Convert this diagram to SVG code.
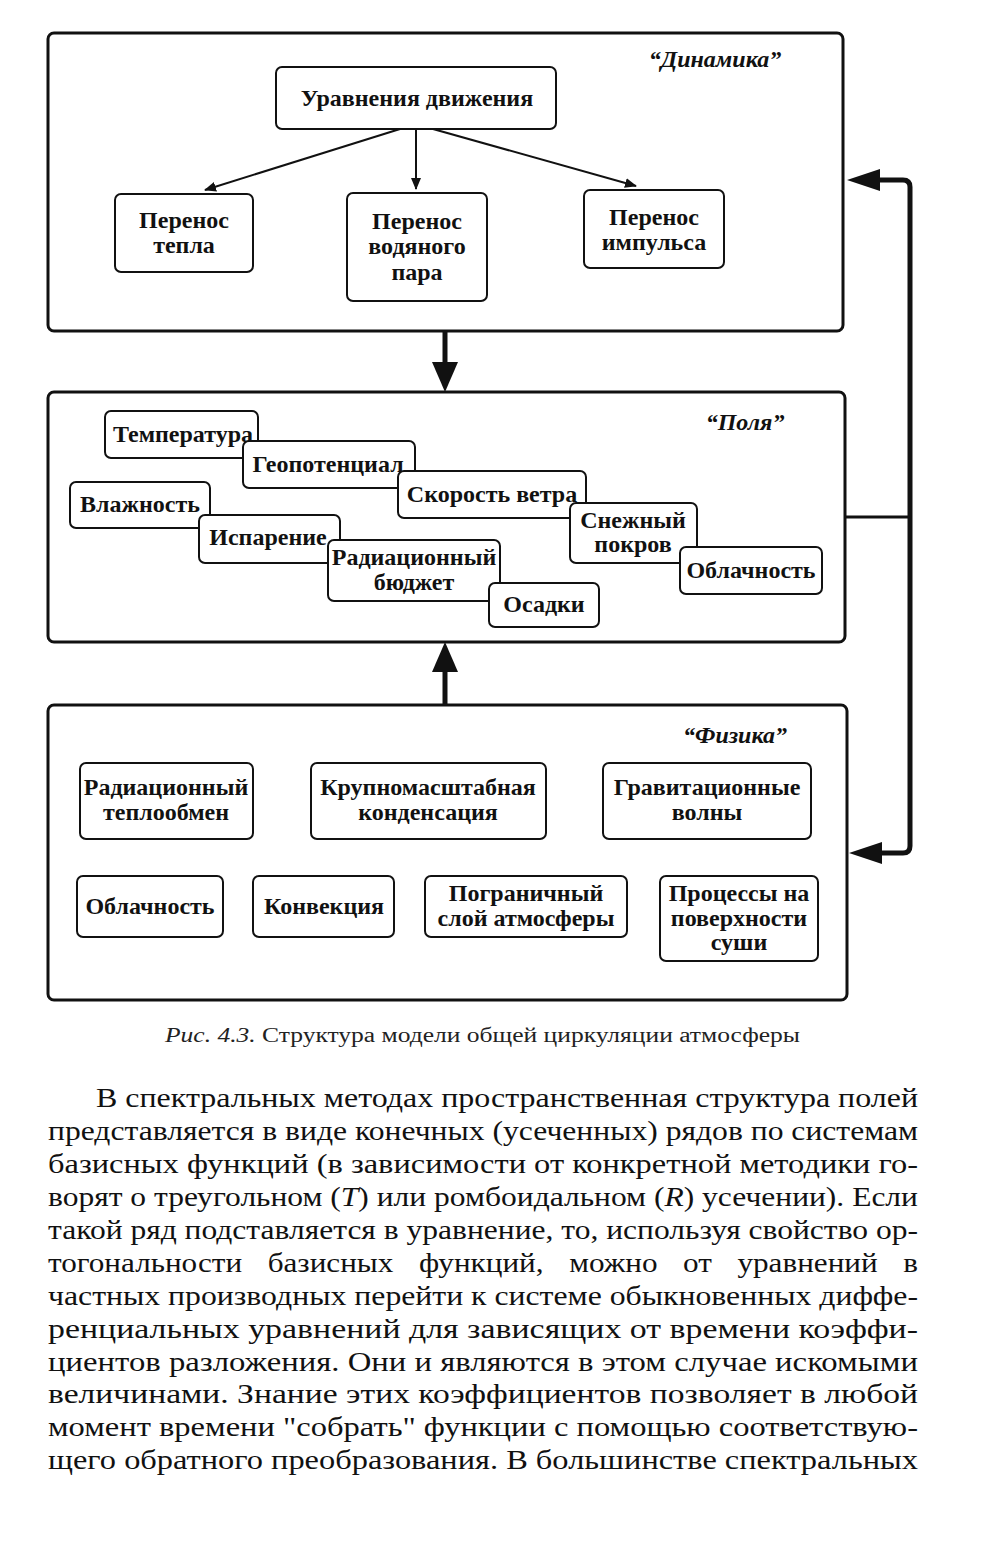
<svg xmlns="http://www.w3.org/2000/svg" width="992" height="1552" viewBox="0 0 992 1552">
<defs>
<style>
.frame{fill:#fff;stroke:#111;stroke-width:3}
.node{fill:#fff;stroke:#111;stroke-width:2}
.t{font-family:"Liberation Serif","DejaVu Serif",serif;font-size:24px;font-weight:bold;fill:#111;text-anchor:middle}
.title{font-family:"Liberation Serif","DejaVu Serif",serif;font-size:24px;font-weight:bold;font-style:italic;fill:#111;text-anchor:middle}
.cap{font-family:"Liberation Serif","DejaVu Serif",serif;font-size:20px;fill:#222}
.p{font-family:"Liberation Serif","DejaVu Serif",serif;font-size:28px;fill:#111}
.thin{stroke:#111;stroke-width:2;fill:none}
.thick{stroke:#111;stroke-width:5;fill:none}
</style>
<marker id="ah" markerWidth="12" markerHeight="10" refX="11" refY="5" orient="auto" markerUnits="userSpaceOnUse">
<path d="M0,0 L12,5 L0,10 Z" fill="#111"/>
</marker>
</defs>
<rect width="992" height="1552" fill="#fff"/>

<g id="dynamics">
<rect class="frame" x="48" y="33" width="795" height="298" rx="6"/>
<text class="title" x="715" y="67">“Динамика”</text>
</g>
<g id="eq-motion">
<rect class="node" x="276" y="67" width="280" height="62" rx="6"/>
<text class="t" x="417" y="106">Уравнения движения</text>
</g>
<g id="heat">
<rect class="node" x="115" y="194" width="138" height="78" rx="6"/>
<text class="t" x="184" y="228">Перенос</text>
<text class="t" x="184" y="253">тепла</text>
</g>
<g id="vapour">
<rect class="node" x="347" y="193" width="140" height="108" rx="6"/>
<text class="t" x="417" y="229">Перенос</text>
<text class="t" x="417" y="254">водяного</text>
<text class="t" x="417" y="280">пара</text>
</g>
<g id="momentum">
<rect class="node" x="584" y="190" width="140" height="78" rx="6"/>
<text class="t" x="654" y="225">Перенос</text>
<text class="t" x="654" y="250">импульса</text>
</g>

<g id="fields">
<rect class="frame" x="48" y="392" width="797" height="250" rx="6"/>
<text class="title" x="745" y="430">“Поля”</text>
</g>
<g id="temperature">
<rect class="node" x="105" y="411" width="153" height="47" rx="6"/>
<text class="t" x="183" y="442">Температура</text>
</g>
<g id="geopotential">
<rect class="node" x="243" y="441" width="172" height="47" rx="6"/>
<text class="t" x="328" y="472">Геопотенциал</text>
</g>
<g id="wind">
<rect class="node" x="398" y="471" width="188" height="47" rx="6"/>
<text class="t" x="492" y="502">Скорость ветра</text>
</g>
<g id="humidity">
<rect class="node" x="70" y="482" width="140" height="46" rx="6"/>
<text class="t" x="140" y="512">Влажность</text>
</g>
<g id="evaporation">
<rect class="node" x="199" y="515" width="141" height="48" rx="6"/>
<text class="t" x="268" y="545">Испарение</text>
</g>
<g id="radbudget">
<rect class="node" x="328" y="540" width="172" height="61" rx="6"/>
<text class="t" x="414" y="565">Радиационный</text>
<text class="t" x="414" y="590">бюджет</text>
</g>
<g id="precip">
<rect class="node" x="489" y="583" width="110" height="44" rx="6"/>
<text class="t" x="544" y="612">Осадки</text>
</g>
<g id="snow">
<rect class="node" x="570" y="503" width="127" height="60" rx="6"/>
<text class="t" x="633" y="528">Снежный</text>
<text class="t" x="633" y="552">покров</text>
</g>
<g id="clouds-f">
<rect class="node" x="680" y="547" width="142" height="47" rx="6"/>
<text class="t" x="751" y="578">Облачность</text>
</g>

<g id="physics">
<rect class="frame" x="48" y="705" width="799" height="295" rx="6"/>
<text class="title" x="735" y="743">“Физика”</text>
</g>
<g id="radexchange">
<rect class="node" x="80" y="763" width="173" height="76" rx="6"/>
<text class="t" x="166" y="795">Радиационный</text>
<text class="t" x="166" y="820">теплообмен</text>
</g>
<g id="condensation">
<rect class="node" x="311" y="763" width="235" height="76" rx="6"/>
<text class="t" x="428" y="795">Крупномасштабная</text>
<text class="t" x="428" y="820">конденсация</text>
</g>
<g id="gravity">
<rect class="node" x="603" y="763" width="208" height="76" rx="6"/>
<text class="t" x="707" y="795">Гравитационные</text>
<text class="t" x="707" y="820">волны</text>
</g>
<g id="clouds-p">
<rect class="node" x="77" y="876" width="146" height="61" rx="6"/>
<text class="t" x="150" y="914">Облачность</text>
</g>
<g id="convection">
<rect class="node" x="253" y="876" width="141" height="61" rx="6"/>
<text class="t" x="324" y="914">Конвекция</text>
</g>
<g id="boundary">
<rect class="node" x="425" y="876" width="202" height="61" rx="6"/>
<text class="t" x="526" y="901">Пограничный</text>
<text class="t" x="526" y="926">слой атмосферы</text>
</g>
<g id="land">
<rect class="node" x="660" y="876" width="158" height="85" rx="6"/>
<text class="t" x="739" y="901">Процессы на</text>
<text class="t" x="739" y="926">поверхности</text>
<text class="t" x="739" y="950">суши</text>
</g>

<g id="connectors">
<line class="thin" x1="400" y1="129" x2="205" y2="190" marker-end="url(#ah)"/>
<line class="thin" x1="416" y1="129" x2="416" y2="189" marker-end="url(#ah)"/>
<line class="thin" x1="433" y1="129" x2="636" y2="186" marker-end="url(#ah)"/>
<line class="thick" x1="445" y1="331" x2="445" y2="364"/>
<path d="M432,362 L458,362 L445,392 Z" fill="#111"/>
<line class="thick" x1="445" y1="705" x2="445" y2="670"/>
<path d="M432,672 L458,672 L445,642 Z" fill="#111"/>
<line stroke="#111" stroke-width="3" x1="845" y1="517" x2="910" y2="517"/>
<path class="thick" d="M878,180 H903 Q910,180 910,187 V846 Q910,853 903,853 H878"/>
<path d="M847,180 L880,169 L880,191 Z" fill="#111"/>
<path d="M849,853 L882,842 L882,864 Z" fill="#111"/>
</g>

<text class="cap" x="165" y="1042" textLength="635" lengthAdjust="spacingAndGlyphs"><tspan font-style="italic">Рис. 4.3.</tspan> Структура модели общей циркуляции атмосферы</text>

<g id="paragraph">
<text class="p" x="96" y="1107" textLength="822" lengthAdjust="spacingAndGlyphs">В спектральных методах пространственная структура полей</text>
<text class="p" x="48" y="1140" textLength="870" lengthAdjust="spacingAndGlyphs">представляется в виде конечных (усеченных) рядов по системам</text>
<text class="p" x="48" y="1173" textLength="870" lengthAdjust="spacingAndGlyphs">базисных функций (в зависимости от конкретной методики го-</text>
<text class="p" x="48" y="1206" textLength="870" lengthAdjust="spacingAndGlyphs">ворят о треугольном (<tspan font-style="italic">T</tspan>) или ромбоидальном (<tspan font-style="italic">R</tspan>) усечении). Если</text>
<text class="p" x="48" y="1239" textLength="870" lengthAdjust="spacingAndGlyphs">такой ряд подставляется в уравнение, то, используя свойство ор-</text>
<text class="p" x="48" y="1272" textLength="870" lengthAdjust="spacingAndGlyphs" word-spacing="16">тогональности базисных функций, можно от уравнений в</text>
<text class="p" x="48" y="1305" textLength="870" lengthAdjust="spacingAndGlyphs">частных производных перейти к системе обыкновенных диффе-</text>
<text class="p" x="48" y="1338" textLength="870" lengthAdjust="spacingAndGlyphs">ренциальных уравнений для зависящих от времени коэффи-</text>
<text class="p" x="48" y="1371" textLength="870" lengthAdjust="spacingAndGlyphs">циентов разложения. Они и являются в этом случае искомыми</text>
<text class="p" x="48" y="1403" textLength="870" lengthAdjust="spacingAndGlyphs">величинами. Знание этих коэффициентов позволяет в любой</text>
<text class="p" x="48" y="1436" textLength="870" lengthAdjust="spacingAndGlyphs">момент времени "собрать" функции с помощью соответствую-</text>
<text class="p" x="48" y="1469" textLength="870" lengthAdjust="spacingAndGlyphs">щего обратного преобразования. В большинстве спектральных</text>
</g>
</svg>
